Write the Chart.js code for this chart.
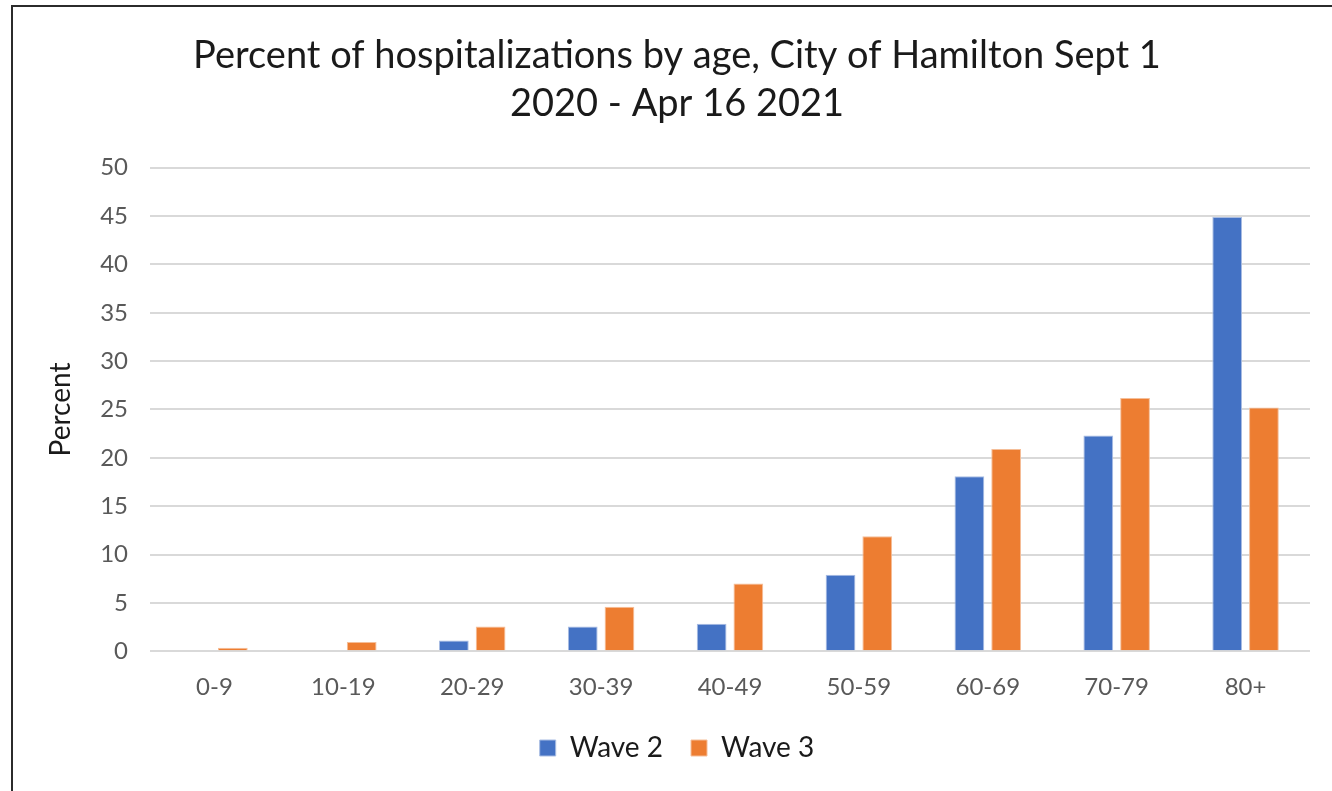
<!DOCTYPE html>
<html lang="en">
<head>
    <meta charset="UTF-8">
    <title>Percent of hospitalizations by age</title>
    <style>
        html, body { margin: 0; padding: 0; background: #fff; }
        #wrap { position: relative; width: 1332px; height: 791px; overflow: hidden; }
        #frame { position: absolute; left: 11px; top: 5px; width: 1340px; height: 800px; border: 2px solid #2b2b2b; box-sizing: border-box; pointer-events: none; }
    </style>
</head>
<body>
    <div id="wrap">
        <canvas id="myChart" width="1332" height="791"></canvas>
        <div id="frame"></div>
    </div>

    <script src="https://cdn.jsdelivr.net/npm/chart.js"></script>

    <script>
    // dados
    const faixas = ['0-9', '10-19', '20-29', '30-39', '40-49', '50-59', '60-69', '70-79', '80+'];
    const wave2 = [0, 0, 1.1, 2.55, 2.85, 7.9, 18.1, 22.3, 44.9];
    const wave3 = [0.35, 0.95, 2.55, 4.6, 7.0, 11.9, 20.9, 26.2, 25.2];
    const titulo = ['Percent of hospitalizations by age, City of Hamilton Sept 1', '2020 - Apr 16 2021'];

    const fonte = "Lato, 'Open Sans', sans-serif";
    const ctx = document.getElementById('myChart');

    new Chart(ctx, {
        type: 'bar',
        data: {
            labels: faixas,
            datasets: [
                { label: 'Wave 2', data: wave2, backgroundColor: '#4472C4', borderColor: '#a9bde3', borderWidth: 1 },
                { label: 'Wave 3', data: wave3, backgroundColor: '#ED7D31', borderColor: '#f5be98', borderWidth: 1 }
            ]
        },
        options: {
            responsive: false,
            animation: false,
            barPercentage: 0.81,
            categoryPercentage: 0.57,
            layout: { padding: { left: 44, right: 22, top: 22, bottom: 19 } },
            plugins: {
                title: {
                    display: true,
                    text: titulo,
                    color: '#1a1a1a',
                    font: { family: fonte, size: 38, weight: 'normal', lineHeight: 1.26 },
                    padding: { top: 10, bottom: 40 }
                },
                legend: {
                    position: 'bottom',
                    labels: {
                        color: '#1a1a1a',
                        font: { family: fonte, size: 28 },
                        boxWidth: 16,
                        boxHeight: 16,
                        padding: 28
                    }
                },
                tooltip: { enabled: false }
            },
            scales: {
                x: {
                    afterFit: (scale) => { scale.height -= 10; },
                    grid: { display: false },
                    border: { display: false },
                    ticks: { color: '#595959', font: { family: fonte, size: 24 }, padding: 14 }
                },
                y: {
                    min: 0,
                    max: 50,
                    afterFit: (scale) => { scale.width = 106; },
                    grid: { color: '#d9d9d9', lineWidth: 2, drawTicks: false },
                    border: { display: false },
                    ticks: { stepSize: 5, color: '#595959', font: { family: fonte, size: 24 }, padding: 22 },
                    title: {
                        display: true,
                        text: 'Percent',
                        color: '#1a1a1a',
                        font: { family: fonte, size: 28 },
                        padding: 0
                    }
                }
            }
        }
    });
    </script>
</body>
</html>
